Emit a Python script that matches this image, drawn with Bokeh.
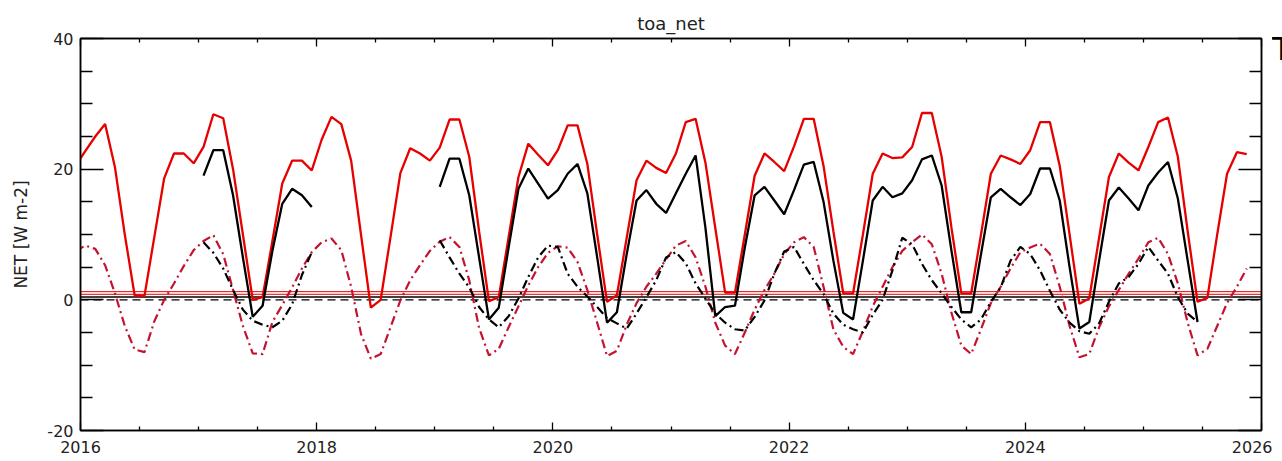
import numpy as np
from bokeh.plotting import figure
from bokeh.layouts import row
from bokeh.models import (LinearAxis, FixedTicker, Range1d, Span, ColumnDataSource,
                          CustomLabelingPolicy, Div)
from bokeh.embed import file_html
from bokeh.resources import INLINE

# ---------------- data (monthly, mid-month, starting Dec 2015) ----------------
first_year, first_month = 2015, 12
nan = float("nan")
NA12 = [nan] * 12

red_net = (
    [20.5] +                                                                   # Dec 2015
    [22.8, 25.0, 26.9, 20.3, 10.0, 0.7, 0.6, 9.6, 18.6, 22.4, 22.4, 20.9] +    # 2016
    [23.4, 28.4, 27.8, 20.0, 10.0, 0.0, 0.4, 9.0, 17.8, 21.3, 21.3, 19.8] +    # 2017
    [24.5, 28.0, 26.9, 21.3, 10.0, -1.2, 0.0, 9.6, 19.4, 23.2, 22.4, 21.3] +   # 2018
    [23.3, 27.6, 27.6, 21.9, 10.5, -0.2, 0.4, 9.6, 18.8, 23.9, 22.2, 20.6] +   # 2019
    [22.9, 26.7, 26.7, 20.8, 10.0, -0.3, 0.7, 9.5, 18.3, 21.3, 20.2, 19.4] +   # 2020
    [22.4, 27.2, 27.7, 21.0, 11.0, 1.1, 1.1, 10.0, 19.0, 22.4, 21.1, 19.7] +   # 2021
    [23.5, 27.7, 27.7, 20.5, 10.5, 1.0, 1.0, 10.0, 19.3, 22.4, 21.7, 21.8] +   # 2022
    [23.4, 28.6, 28.6, 21.9, 11.0, 1.0, 1.0, 10.0, 19.3, 22.1, 21.5, 20.8] +   # 2023
    [22.9, 27.2, 27.2, 20.5, 10.0, -0.6, 0.2, 9.5, 18.8, 22.4, 21.0, 19.8] +   # 2024
    [23.4, 27.2, 27.9, 21.9, 10.5, -0.3, 0.3, 10.0, 19.3, 22.6, 22.3]          # 2025
)

black_net = (
    [nan] + NA12 +                                                             # Dec 2015, 2016
    [19.0, 22.9, 22.9, 16.0, 6.5, -2.6, -0.9, 7.5, 14.7, 17.0, 16.0, 14.2] +   # 2017
    NA12 +                                                                     # 2018
    [17.3, 21.6, 21.6, 16.0, 6.5, -3.0, -1.2, 8.0, 17.0, 20.1, 17.8, 15.5] +   # 2019
    [16.8, 19.3, 20.8, 16.3, 6.5, -3.5, -1.9, 7.0, 15.2, 16.8, 14.7, 13.3] +   # 2020
    [16.3, 19.3, 22.1, 11.0, -2.5, -1.1, -0.9, 8.0, 16.0, 17.3, 15.2, 13.1] +  # 2021
    [16.8, 20.7, 21.1, 15.0, 6.0, -2.0, -3.0, 6.0, 15.2, 17.3, 15.7, 16.3] +   # 2022
    [18.3, 21.5, 22.1, 17.5, 7.5, -1.9, -1.9, 7.0, 15.7, 17.0, 15.7, 14.5] +   # 2023
    [16.2, 20.1, 20.1, 15.2, 5.0, -4.4, -3.4, 6.0, 15.2, 17.2, 15.5, 13.7] +   # 2024
    [17.5, 19.5, 21.1, 15.5, 6.0, -3.4, nan, nan, nan, nan, nan]               # 2025
)

red_anom = (
    [7.5] +                                                                    # Dec 2015
    [8.3, 7.8, 5.3, 1.0, -4.0, -7.6, -8.0, -3.3, 0.0, 2.5, 5.2, 7.6] +         # 2016
    [9.0, 9.9, 7.0, 1.5, -4.0, -8.2, -8.3, -3.4, -0.8, 1.9, 4.8, 7.3] +        # 2017
    [8.8, 9.4, 7.6, 2.0, -5.2, -9.0, -8.3, -4.2, -0.1, 3.0, 5.3, 7.5] +        # 2018
    [8.9, 9.6, 8.1, 3.0, -4.3, -8.5, -7.5, -4.2, -1.0, 2.2, 5.0, 7.2] +        # 2019
    [8.2, 8.0, 5.8, 1.5, -3.5, -8.6, -7.8, -3.8, -0.5, 2.0, 4.0, 6.2] +        # 2020
    [8.3, 9.0, 6.5, 2.0, -3.5, -7.0, -8.3, -5.0, -1.5, 1.5, 4.0, 7.0] +        # 2021
    [8.8, 9.6, 8.1, 2.0, -4.5, -7.2, -8.3, -4.8, -1.0, 2.0, 5.0, 7.5] +        # 2022
    [8.8, 10.0, 8.5, 4.0, -2.0, -7.0, -8.3, -4.5, -0.5, 2.0, 4.8, 7.3] +       # 2023
    [8.0, 8.6, 7.0, 2.0, -4.0, -8.8, -8.3, -4.2, -1.0, 1.5, 4.0, 6.3] +        # 2024
    [8.8, 9.5, 7.0, 2.5, -3.5, -8.5, -7.5, -4.0, -0.5, 2.0, 4.8]               # 2025
)

black_anom = (
    [nan] + NA12 +                                                             # Dec 2015, 2016
    [8.8, 7.2, 4.8, 1.5, -1.5, -3.2, -3.8, -4.2, -3.2, -0.7, 3.8, 7.3] +       # 2017
    NA12 +                                                                     # 2018
    [9.1, 6.5, 4.0, 1.9, -1.1, -3.0, -4.2, -2.5, 0.2, 3.5, 6.5, 8.3] +         # 2019
    [8.1, 4.0, 2.0, 0.5, -1.1, -2.8, -3.6, -4.4, -2.1, 0.4, 3.0, 6.5] +        # 2020
    [7.3, 5.6, 2.5, 0.2, -2.1, -3.5, -4.5, -4.7, -2.6, -0.1, 4.0, 7.4] +       # 2021
    [8.1, 5.5, 3.0, 0.9, -2.1, -3.8, -4.5, -5.0, -2.3, 0.0, 4.5, 9.5] +        # 2022
    [8.5, 5.5, 3.0, 1.0, -1.1, -3.0, -4.2, -3.0, -0.3, 1.9, 6.0, 8.1] +        # 2023
    [7.0, 4.5, 1.4, -1.5, -3.5, -4.8, -5.2, -3.6, -0.3, 2.5, 3.5, 5.5] +       # 2024
    [8.1, 6.0, 4.0, 0.4, -2.1, -3.4, nan, nan, nan, nan, nan]                  # 2025
)

red_levels = [1.25, 0.85]
black_level = [0.45]
zero_level = [0.0]

y_major = [-20, 0, 20, 40]
y_minor = [-15, -10, -5, 5, 10, 15, 25, 30, 35]
x_major = [2016, 2018, 2020, 2022, 2024, 2026]
x_minor = [2016.5, 2017, 2017.5, 2018.5, 2019, 2019.5, 2020.5, 2021, 2021.5,
           2022.5, 2023, 2023.5, 2024.5, 2025, 2025.5]

title_text = "toa_net"
ylabel_text = "NET [W m-2]"
edge_text = "T"

# ---------------- build ----------------
n = len(red_net)
t = [first_year + (first_month - 0.5) / 12 + k / 12 for k in range(n)]
src = ColumnDataSource(dict(
    t=t,
    red_net=np.array(red_net, dtype=float),
    black_net=np.array(black_net, dtype=float),
    red_anom=np.array(red_anom, dtype=float),
    black_anom=np.array(black_anom, dtype=float),
))

FONT = "DejaVu Sans"

p = figure(width=1272, height=461,
           x_range=Range1d(2016, 2026), y_range=Range1d(-20, 40),
           output_backend="svg", toolbar_location=None,
           x_axis_type=None, y_axis_type=None,
           min_border_left=80, min_border_right=11,
           min_border_top=38, min_border_bottom=31)
p.background_fill_color = "white"
p.border_fill_color = "white"
p.outline_line_color = "black"
p.outline_line_width = 1.5
p.xgrid.visible = False
p.ygrid.visible = False

p.title.text = title_text
p.title.align = "center"
p.title.text_font = FONT
p.title.text_font_size = "18px"
p.title.text_font_style = "normal"
p.title.text_color = "#222222"
p.title.standoff = 10

hide_labels = CustomLabelingPolicy(
    code="for (const i of Array.from(indices)) { indices.unset(i) }\nreturn indices")


def style(ax, major_in, minor_in, show_labels):
    ax.axis_line_color = "black"
    ax.axis_line_width = 1.5
    ax.major_tick_in = major_in
    ax.major_tick_out = 0
    ax.minor_tick_in = minor_in
    ax.minor_tick_out = 0
    ax.major_tick_line_color = "black"
    ax.minor_tick_line_color = "black"
    ax.major_tick_line_width = 1.3
    ax.minor_tick_line_width = 1.3
    ax.major_label_text_font = FONT
    ax.major_label_text_color = "#222222"
    if not show_labels:
        ax.major_label_text_font_size = "0px"
        ax.major_label_standoff = 0
        ax.major_label_policy = hide_labels


yt = FixedTicker(ticks=y_major, minor_ticks=y_minor)
xt = FixedTicker(ticks=x_major, minor_ticks=x_minor)

left = LinearAxis(ticker=yt)
style(left, 23, 12, True)
left.major_label_text_font_size = "16px"
left.major_label_standoff = 7
left.major_label_overrides = {v: str(v) for v in y_major}
left.axis_label = ylabel_text
left.axis_label_text_font = FONT
left.axis_label_text_font_size = "17px"
left.axis_label_text_font_style = "normal"
left.axis_label_text_color = "#222222"
left.axis_label_standoff = 13
p.add_layout(left, "left")

right = LinearAxis(ticker=yt)
style(right, 23, 12, False)
p.add_layout(right, "right")

bottom = LinearAxis(ticker=xt)
style(bottom, 8, 4, True)
bottom.major_label_text_font_size = "16px"
bottom.major_label_standoff = 10
bottom.major_label_overrides = {v: str(v) for v in x_major}
p.add_layout(bottom, "below")

top = LinearAxis(ticker=xt)
style(top, 8, 4, False)
p.add_layout(top, "above")

# reference levels
for lv in red_levels:
    p.add_layout(Span(location=lv, dimension="width", line_color="#e00000",
                      line_width=1, level="underlay"))
for lv in black_level:
    p.add_layout(Span(location=lv, dimension="width", line_color="black",
                      line_width=1.5, level="underlay"))
for lv in zero_level:
    p.add_layout(Span(location=lv, dimension="width", line_color="black",
                      line_width=1.3, line_dash="8 5", level="underlay"))

RED = "#e60000"
DRED = "#c4122f"
p.line("t", "red_anom", source=src, line_color=DRED, line_width=2.2, line_dash="9 4 2 4")
p.line("t", "black_anom", source=src, line_color="black", line_width=2.2, line_dash="9 4 2 4")
p.line("t", "red_net", source=src, line_color=RED, line_width=2.3)
p.line("t", "black_net", source=src, line_color="black", line_width=2.3)

# partially visible letter at the right edge (clipped like in the reference)
edge = Div(
    text=('<div style="width:10px;height:80px;overflow:hidden;">'
          '<div style="margin-top:33px;font-family:\'DejaVu Sans\';font-size:32px;'
          'line-height:32px;white-space:nowrap;color:#000;">' + edge_text + '</div></div>'),
    width=10, height=80, margin=(0, 0, 0, 0))

layout = row(p, edge)

open("out.html", "w").write(file_html(layout, INLINE))
